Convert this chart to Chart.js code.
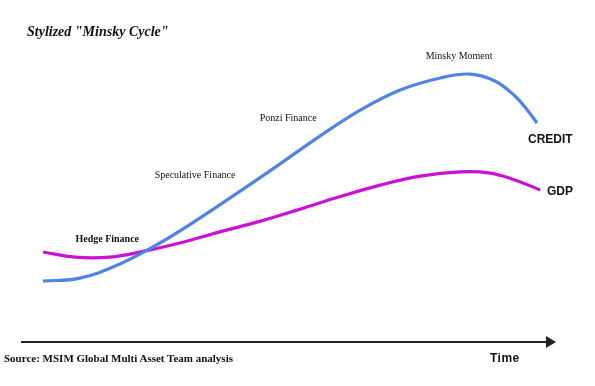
<!DOCTYPE html>
<html>
<head>
    <title>Stylized Minsky Cycle</title>
    <script src="https://cdn.jsdelivr.net/npm/chart.js"></script>
    <style>
        body { margin: 0; background: #fff; }
        #wrap { position: relative; width: 595px; height: 386px; }
        #title { position: absolute; left: 27px; top: 24px; font: italic bold 14px "Liberation Serif", serif; line-height: 16px; color: #111; }
        #source { position: absolute; left: 4px; top: 352px; font: bold 11px "Liberation Serif", serif; line-height: 13px; color: #111; }
        #timeLabel { position: absolute; left: 490px; top: 351px; font: bold 12px "Liberation Sans", Arial, sans-serif; line-height: 14px; letter-spacing: 0.5px; color: #111; }
    </style>
</head>
<body>
<div id="wrap">
    <canvas id="minsky" width="595" height="386"></canvas>
    <div id="title">Stylized "Minsky Cycle"</div>
    <div id="source">Source: MSIM Global Multi Asset Team analysis</div>
    <div id="timeLabel">Time</div>
</div>
<script>
    // time (0-100) vs level (0-100)
    const creditX = [4.0, 11.0, 18.6, 26.2, 33.8, 41.4, 49.0, 56.7, 64.3, 71.9, 79.5, 85.2, 89.9, 93.7, 96.2, 97.9];
    const creditY = [20.3, 21.3, 26.0, 33.0, 41.3, 50.2, 59.3, 68.7, 77.3, 84.0, 88.0, 89.3, 87.0, 82.0, 77.0, 73.0];
    const gdpX = [4.0, 10.1, 16.7, 23.0, 30.0, 37.6, 45.2, 52.9, 60.5, 68.1, 75.7, 83.3, 89.0, 93.7, 98.5];
    const gdpY = [30.0, 28.3, 28.3, 30.2, 33.0, 36.7, 40.2, 44.3, 48.5, 52.3, 55.3, 56.7, 56.3, 54.0, 50.7];

    const noteText = ['Minsky Moment', 'Ponzi Finance', 'Speculative Finance', 'Hedge Finance'];
    const noteX = [83.1, 50.6, 32.9, 16.2];
    const noteY = [95.3, 74.7, 55.7, 34.3];
    const noteBold = [false, false, false, true];

    const seriesText = ['CREDIT', 'GDP'];
    const seriesX = [96.2, 99.8];
    const seriesY = [67.3, 50.0];

    function toPoints(xs, ys) {
        return xs.map((x, i) => ({ x: x, y: ys[i] }));
    }

    const labelPlugin = {
        id: 'labels',
        afterDraw(chart) {
            const ctx = chart.ctx;
            const xs = chart.scales.x, ys = chart.scales.y;
            ctx.save();
            ctx.fillStyle = '#111';
            ctx.textBaseline = 'middle';
            ctx.textAlign = 'center';
            noteText.forEach((t, i) => {
                ctx.font = (noteBold[i] ? 'bold ' : '') + '10px "Liberation Serif", serif';
                ctx.fillText(t, xs.getPixelForValue(noteX[i]), ys.getPixelForValue(noteY[i]));
            });
            ctx.textAlign = 'left';
            ctx.font = 'bold 12px "Liberation Sans", Arial, sans-serif';
            seriesText.forEach((t, i) => {
                ctx.fillText(t, xs.getPixelForValue(seriesX[i]), ys.getPixelForValue(seriesY[i]));
            });
            // arrow head at the end of the time axis
            const a = chart.chartArea;
            ctx.fillStyle = '#222';
            ctx.beginPath();
            ctx.moveTo(a.right - 2, a.bottom - 6);
            ctx.lineTo(a.right + 8, a.bottom);
            ctx.lineTo(a.right - 2, a.bottom + 6);
            ctx.closePath();
            ctx.fill();
            ctx.restore();
        }
    };

    new Chart(document.getElementById('minsky'), {
        type: 'line',
        data: {
            datasets: [{
                label: 'CREDIT',
                data: toPoints(creditX, creditY),
                borderColor: '#4f84e4',
                borderWidth: 3.2,
                pointRadius: 0,
                tension: 0.4,
                fill: false
            }, {
                label: 'GDP',
                data: toPoints(gdpX, gdpY),
                borderColor: '#cc10d4',
                borderWidth: 3.2,
                pointRadius: 0,
                tension: 0.4,
                fill: false
            }]
        },
        options: {
            responsive: false,
            animation: false,
            layout: { padding: { left: 22, right: 47, top: 42, bottom: 44 } },
            plugins: { legend: { display: false }, tooltip: { enabled: false } },
            scales: {
                x: {
                    type: 'linear', min: 0, max: 100,
                    grid: { display: false, drawTicks: false },
                    ticks: { display: false },
                    border: { display: true, color: '#222', width: 2 }
                },
                y: { min: 0, max: 100, display: false }
            }
        },
        plugins: [labelPlugin]
    });
</script>
</body>
</html>
